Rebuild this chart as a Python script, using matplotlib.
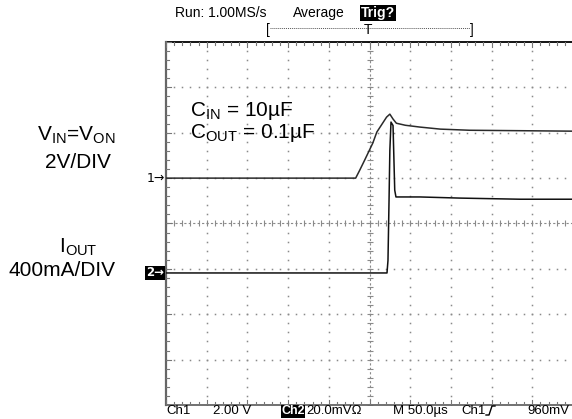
import numpy as np
import matplotlib.pyplot as plt

plt.rcParams['mathtext.fontset'] = 'custom'
plt.rcParams['mathtext.rm'] = 'Liberation Sans'

# scope settings: 50 us/div, ch1 2 V/div, ch2 400 mA/div
us_per_div = 50.0
v_per_div = 2.0
a_per_div = 0.4
ch1_pos = 1.0
ch2_pos = -1.09

# V_IN (ch1), time in us, volts
t_vin = [0, 233, 238, 244, 254, 259, 267, 271, 275, 279, 283, 294, 312, 337, 373, 499]
v_in = [0, 0, 0.35, 0.79, 1.54, 2.03, 2.47, 2.69, 2.82, 2.60, 2.42, 2.33, 2.25, 2.16, 2.11, 2.07]

# I_OUT (ch2), time in us, amps
t_iout = [0, 271.5, 272.7, 274, 275, 276.4, 278.9, 281, 282.5, 312, 361, 435, 499]
i_out = [0, 0, 0.11, 0.64, 1.08, 1.33, 1.30, 0.73, 0.67, 0.67, 0.66, 0.65, 0.65]

W, H = 572, 419


def fx(x):
    return x / W


def fy(y):
    return 1 - y / H


fig = plt.figure(figsize=(W / 100, H / 100), dpi=100)
ax = fig.add_axes([fx(166), fy(405), 407 / W, 363 / H])
ax.set_xlim(0, 10)
ax.set_ylim(-4, 4)
ax.axis('off')

grid_col = '#8a8a8a'
# dotted graticule
minor_y = np.arange(-4, 4.01, 0.2)
minor_x = np.arange(0, 10.01, 0.2)
for gx in [1, 2, 3, 4, 6, 7, 8, 9]:
    ax.plot(np.full_like(minor_y, gx), minor_y, ls='none', marker='s',
            ms=1.1, mew=0, color=grid_col)
for gy in [-3, -2, -1, 1, 2, 3]:
    ax.plot(minor_x, np.full_like(minor_x, gy), ls='none', marker='s',
            ms=1.1, mew=0, color=grid_col)

# center cross with ticks
ax.plot([0, 10], [0, 0], color=grid_col, lw=0.8, ls=(0, (2, 2)))
ax.plot([5, 5], [-4, 4], color=grid_col, lw=0.8, ls=(0, (2, 2)))
ax.plot(minor_x, np.zeros_like(minor_x), ls='none', marker='|', ms=4,
        mew=0.8, color=grid_col)
ax.plot(np.full_like(minor_y, 5), minor_y, ls='none', marker='_', ms=4,
        mew=0.8, color=grid_col)

# frame with edge ticks
ax.plot([0, 10], [4, 4], color='black', lw=1.3, clip_on=False)
ax.plot([0, 10], [-4, -4], color='#666666', lw=1.3, clip_on=False)
ax.plot([0, 0], [-4, 4], color='#666666', lw=1.6, clip_on=False)
for xv in minor_x:
    ln = 0.11 if abs(xv - round(xv)) < 1e-6 else 0.07
    ax.plot([xv, xv], [4, 4 - ln], color='#777777', lw=0.8)
    ax.plot([xv, xv], [-4, -4 + ln], color='#777777', lw=0.8)
for yv in minor_y:
    ln = 0.12 if abs(yv - round(yv)) < 1e-6 else 0.08
    ax.plot([0, ln], [yv, yv], color='#777777', lw=0.8)

# traces
ax.plot(np.array(t_vin) / us_per_div, np.array(v_in) / v_per_div + ch1_pos,
        color='#2a2a2a', lw=1.1)
ax.plot(np.array(t_iout) / us_per_div, np.array(i_out) / a_per_div + ch2_pos,
        color='#111111', lw=1.1)

# channel markers
fig.text(fx(165), fy(178), '1→', ha='right', va='center', fontsize=9)
fig.text(fx(164), fy(273), '2→', ha='right', va='center', fontsize=8.5,
         color='white', fontweight='bold',
         bbox=dict(fc='black', ec='none', pad=0.6))

# annotations
big = dict(family='Liberation Sans', fontsize=15)
fig.text(fx(76), fy(140), r'V$_\mathregular{IN}$=V$_\mathregular{ON}$',
         ha='center', va='baseline', **big)
fig.text(fx(78), fy(168), '2V/DIV', ha='center', va='baseline', **big)
fig.text(fx(78), fy(252), r'I$_\mathregular{OUT}$', ha='center',
         va='baseline', **big)
fig.text(fx(62), fy(276), '400mA/DIV', ha='center', va='baseline', **big)
fig.text(fx(190), fy(116), r'C$_\mathregular{IN}$ = 10µF', ha='left',
         va='baseline', **big)
fig.text(fx(190), fy(138), r'C$_\mathregular{OUT}$ = 0.1µF', ha='left',
         va='baseline', **big)

# scope status line (top)
st = dict(family='Liberation Sans', fontsize=10, va='center')
fig.text(fx(175), fy(13), 'Run: 1.00MS/s', **st)
fig.text(fx(293), fy(13), 'Average', **st)
fig.text(fx(361), fy(13), 'Trig?', color='white', fontweight='bold',
         bbox=dict(fc='black', ec='none', pad=0.5), **st)

# trigger position bracket
fig.text(fx(268), fy(30), '[', ha='center', **st)
fig.text(fx(472), fy(30), ']', ha='center', **st)
fig.text(fx(368), fy(30), 'T', ha='center', **st)
fig.add_artist(plt.Line2D([fx(270), fx(470)], [fy(28), fy(28)],
                          color='#555555', lw=0.7, ls=(0, (1, 1))))

# scope status line (bottom)
sb = dict(family='Liberation Sans', fontsize=9.5, va='center')
fig.text(fx(166), fy(411), 'Ch1', **sb)
fig.text(fx(213), fy(411), '2.00 V', **sb)
fig.text(fx(281), fy(411), 'Ch2', color='white', fontweight='bold',
         fontsize=9, family='Liberation Sans', va='center',
         bbox=dict(fc='black', ec='none', pad=0.4))
fig.text(fx(306), fy(411), '20.0mVΩ', **sb)
fig.text(fx(393), fy(411), 'M 50.0µs', **sb)
fig.text(fx(461), fy(411), 'Ch1', **sb)
fig.add_artist(plt.Line2D([fx(486), fx(489), fx(492), fx(495)],
                          [fy(415), fy(415), fy(406), fy(406)],
                          color='black', lw=1.0))
fig.text(fx(527), fy(411), '960mV', **sb)

fig.savefig('out.png', dpi=100)
